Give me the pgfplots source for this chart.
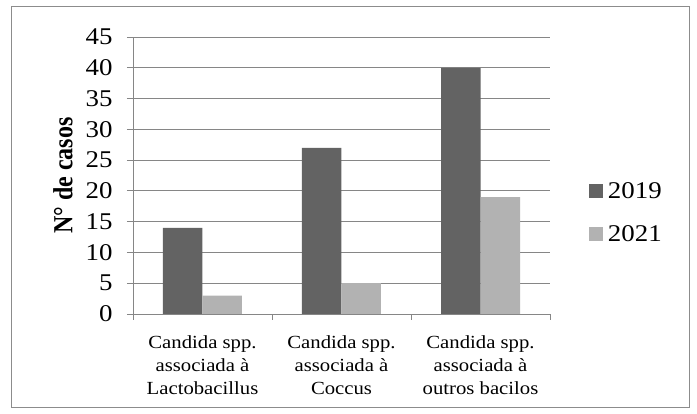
\documentclass[border=0pt]{standalone}
\usepackage{pgfplots}
\pgfplotsset{compat=1.18}
\usepackage{graphicx}
\usepackage{fontspec}
\setmainfont[FakeStretch=1.12]{Liberation Serif}
\newfontfamily\plainfont{Liberation Serif}
\definecolor{darkbar}{RGB}{99,99,99}
\definecolor{lightbar}{RGB}{178,178,178}
\definecolor{gridc}{RGB}{134,134,134}
\definecolor{framec}{RGB}{140,140,140}
\begin{document}
\begin{tikzpicture}
\path[use as bounding box] (-133pt,-100pt) rectangle (564pt,314pt);
\draw[framec, line width=1pt] (-121pt,-94pt) rectangle (556pt,307pt);
\begin{axis}[
  at={(0pt,0pt)}, anchor=south west,
  scale only axis, width=417pt, height=277pt,
  ybar=0pt, bar width=39.5pt,
  xmin=-0.5, xmax=2.5, ymin=0, ymax=45,
  ytick={0,5,...,45},
  xtick={0,1,2},
  xticklabels={{Candida spp.\\associada à\\Lactobacillus},{Candida spp.\\associada à\\Coccus},{Candida spp.\\associada à\\outros bacilos}},
  minor xtick={-0.5,0.5,1.5,2.5},
  axis lines*=left,
  axis line style={gridc, line width=0.8pt},
  tick align=outside,
  major tick length=6pt, minor tick length=6pt,
  x tick style={draw=none},
  minor x tick style={draw=gridc, line width=0.8pt},
  y tick style={draw=gridc, line width=0.8pt},
  ymajorgrids, grid style={gridc, line width=0.8pt},
  /pgf/number format/assume math mode=true,
  yticklabel style={font=\fontsize{24}{27}\selectfont, xshift=-11pt},
  xticklabel style={font=\fontsize{18.5}{23}\selectfont, align=center, yshift=-12pt},
  ylabel={\scalebox{1}[1.15]{\plainfont\bfseries N° de casos}},
  ylabel style={font=\fontsize{24}{27}\selectfont, at={(axis description cs:-0.168,0.5)}, anchor=center},
  legend style={at={(1.093,0.366)}, anchor=west, draw=none, fill=none,
    font=\fontsize{24}{27}\selectfont, row sep=21pt, inner xsep=0pt,
    /tikz/every odd column/.append style={column sep=3pt}},
  legend cell align=left,
  legend image code/.code={\fill[#1] (0pt,-7pt) rectangle (14pt,7pt);},
]
\addplot[fill=darkbar, draw=none] coordinates {(0,14) (1,27) (2,40)};
\addplot[fill=lightbar, draw=none] coordinates {(0,3) (1,5) (2,19)};
\legend{2019,2021}
\end{axis}
\end{tikzpicture}
\end{document}
